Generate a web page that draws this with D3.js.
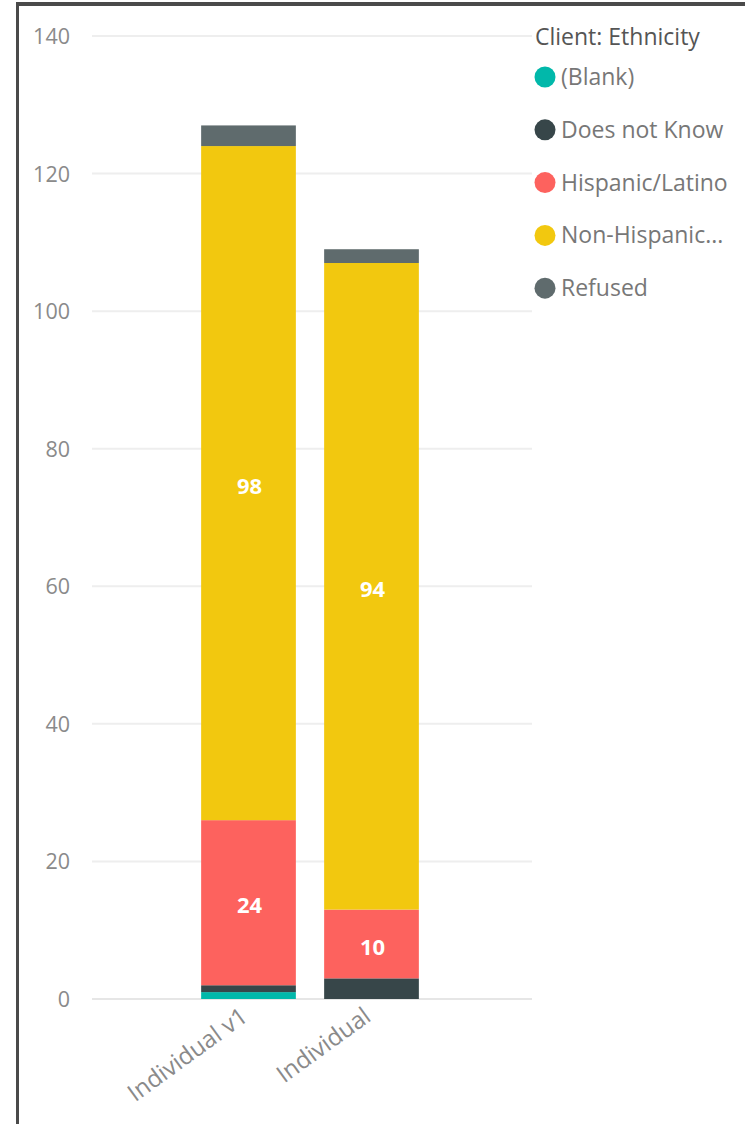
<!DOCTYPE html>
<html>
<head>
<meta charset="utf-8">
<script src="https://cdn.jsdelivr.net/npm/d3@7/dist/d3.min.js"></script>
<style>
html,body{margin:0;padding:0;background:#fff;}
svg{display:block;}
text{font-family:"Segoe UI","Open Sans","Noto Sans",sans-serif;}
</style>
</head>
<body>
<script>
const categories = ["Individual v1", "Individual"];
const seriesNames = ["(Blank)", "Does not Know", "Hispanic/Latino", "Non-Hispanic/Latino", "Refused"];
const legendLabels = ["(Blank)", "Does not Know", "Hispanic/Latino", "Non-Hispanic...", "Refused"];
const blankValues = [1, 0];
const doesNotKnowValues = [1, 3];
const hispanicValues = [24, 10];
const nonHispanicValues = [98, 94];
const refusedValues = [3, 2];
const yTicks = [0, 20, 40, 60, 80, 100, 120, 140];
const colors = ["#01B8AA", "#374649", "#FD625E", "#F2C80F", "#5F6B6D"];

const W = 745, H = 1124;
const svg = d3.select("body").append("svg").attr("width", W).attr("height", H);

// frame
svg.append("rect").attr("x", 16).attr("y", 2).attr("width", W - 16).attr("height", 4).attr("fill", "#4a4a4a");
svg.append("rect").attr("x", 16).attr("y", 2).attr("width", 3).attr("height", H - 2).attr("fill", "#4a4a4a");

const seriesValues = [blankValues, doesNotKnowValues, hispanicValues, nonHispanicValues, refusedValues];
const rows = categories.map((c, i) => {
  const r = {cat: c};
  seriesNames.forEach((s, j) => r[s] = seriesValues[j][i]);
  return r;
});
const stacked = d3.stack().keys(seriesNames)(rows);

const y = d3.scaleLinear().domain([0, 140]).range([999, 36]);
const x = d3.scaleBand().domain(categories).range([187, 433]).paddingInner(0.23).paddingOuter(0.115);

// gridlines
svg.append("g").selectAll("line").data(yTicks).join("line")
  .attr("x1", 92).attr("x2", 532)
  .attr("y1", d => y(d)).attr("y2", d => y(d))
  .attr("stroke", d => d === 0 ? "#e6e6e6" : "#eeeeee")
  .attr("stroke-width", 2);

// y axis labels
const yAxis = d3.axisLeft(y).tickValues(yTicks).tickSize(0).tickPadding(0);
const gy = svg.append("g").attr("transform", "translate(70,0)").call(yAxis);
gy.select(".domain").remove();
gy.selectAll("text").attr("fill", "#8a8a8a").attr("font-size", 21.5).attr("dy", "0.35em")
  .style("font-family", '"Segoe UI","Open Sans","Noto Sans",sans-serif');

// bars
const layers = svg.append("g").selectAll("g").data(stacked).join("g")
  .attr("fill", (d, i) => colors[i]);
layers.selectAll("rect").data(d => d.map(v => ({v, key: d.key}))).join("rect")
  .attr("x", d => x(d.v.data.cat))
  .attr("width", x.bandwidth())
  .attr("y", d => y(d.v[1]))
  .attr("height", d => Math.max(0, y(d.v[0]) - y(d.v[1])));

// data labels
const labelSeries = ["Hispanic/Latino", "Non-Hispanic/Latino"];
stacked.filter(s => labelSeries.includes(s.key)).forEach(s => {
  svg.append("g").selectAll("text").data(s).join("text")
    .attr("x", d => x(d.data.cat) + x.bandwidth() / 2 + 1)
    .attr("y", d => (y(d[0]) + y(d[1])) / 2 + 3)
    .attr("dy", "0.35em")
    .attr("text-anchor", "middle")
    .attr("fill", "#ffffff")
    .attr("font-weight", "bold")
    .attr("font-size", 22)
    .text(d => d[1] - d[0]);
});

// x axis labels
const xAxis = d3.axisBottom(x).tickSize(0).tickPadding(0);
const gx = svg.append("g").attr("transform", "translate(-9,1006)").call(xAxis);
gx.select(".domain").remove();
gx.selectAll("text")
  .attr("fill", "#8a8a8a").attr("font-size", 24)
  .attr("text-anchor", "end").attr("dy", "0.7em").attr("y", 0)
  .attr("transform", "rotate(-36)")
  .style("font-family", '"Segoe UI","Open Sans","Noto Sans",sans-serif');

// legend
svg.append("text").attr("x", 535).attr("y", 37).attr("dy", "0.35em")
  .attr("font-size", 23).attr("fill", "#555").text("Client: Ethnicity");
const lg = svg.append("g").selectAll("g").data(legendLabels).join("g")
  .attr("transform", (d, i) => `translate(0,${77 + i * 52.8})`);
lg.append("circle").attr("cx", 545).attr("cy", 0).attr("r", 10.5).attr("fill", (d, i) => colors[i]);
lg.append("text").attr("x", 561).attr("y", 0).attr("dy", "0.35em")
  .attr("font-size", 23).attr("fill", "#777").text(d => d);
</script>
</body>
</html>
